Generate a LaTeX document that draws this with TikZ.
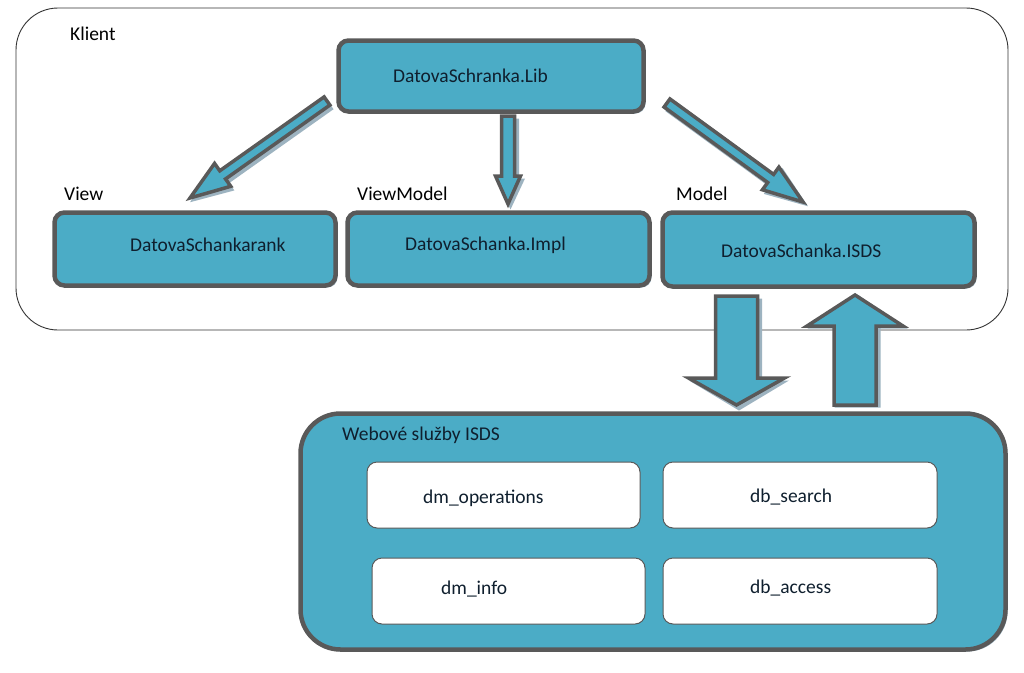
\documentclass[tikz,border=0pt]{standalone}
\usepackage{fontspec}
\setmainfont{Carlito}
\usetikzlibrary{calc,shadows}
\definecolor{blu}{HTML}{4BACC6}
\definecolor{bord}{HTML}{595959}
\definecolor{shad}{HTML}{9DB3C0}
\definecolor{txt}{HTML}{0F1F2E}
\tikzset{
  blubox/.style={fill=blu, draw=bord, line width=4.5pt, rounded corners=10pt,
    drop shadow={shadow xshift=2pt, shadow yshift=-2pt, fill=shad, opacity=1}},
  whitebox/.style={fill=white, draw=bord, line width=1pt, rounded corners=10pt},
  lbl/.style={anchor=west, inner sep=0pt, font=\fontsize{19.5}{22}\selectfont, text=black},
  boxtxt/.style={anchor=west, inner sep=0pt, font=\fontsize{19.5}{22}\selectfont, text=txt},
  arrfill/.style={fill=blu, draw=bord, line width=3.5pt, line join=miter},
}
% #1 start, #2 end, #3 half shaft, #4 half head, #5 head length
\newcommand\blockarr[5]{%
  \fill[shad] let \p1=(#1), \p2=(#2), \n1={atan2(\y2-\y1,\x2-\x1)}, \n2={veclen(\x2-\x1,\y2-\y1)} in
    [shift={(#1)}, xshift=2.5pt, yshift=-2.5pt, rotate=\n1]
    (0pt,{(#3+2)*1pt}) -- ({(\n2-#5)*1pt},{(#3+2)*1pt}) -- ({(\n2-#5)*1pt},{(#4+2)*1pt}) -- ({(\n2+3)*1pt},0pt)
    -- ({(\n2-#5)*1pt},{-(#4+2)*1pt}) -- ({(\n2-#5)*1pt},{-(#3+2)*1pt}) -- (0pt,{-(#3+2)*1pt}) -- cycle;
  \draw[arrfill] let \p1=(#1), \p2=(#2), \n1={atan2(\y2-\y1,\x2-\x1)}, \n2={veclen(\x2-\x1,\y2-\y1)} in
    [shift={(#1)}, rotate=\n1]
    (0pt,{#3*1pt}) -- ({(\n2-#5)*1pt},{#3*1pt}) -- ({(\n2-#5)*1pt},{#4*1pt}) -- ({\n2*1pt},0pt)
    -- ({(\n2-#5)*1pt},{-#4*1pt}) -- ({(\n2-#5)*1pt},{-#3*1pt}) -- (0pt,{-#3*1pt}) -- cycle;
}
\begin{document}
\begin{tikzpicture}[x=1pt, y=-1pt]
\useasboundingbox (0,0) rectangle (1024,672);
% client container
\node[draw=black!80, line width=0.9pt, rounded corners=42pt, minimum width=992pt, minimum height=322pt] (client) at (512,169) {};
\node[lbl] (klient) at (70,34) {Klient};
% boxes
\node[blubox, minimum width=305pt, minimum height=71pt] (lib) at (491,76) {};
\node[blubox, minimum width=281pt, minimum height=73pt] (view) at (195,249) {};
\node[blubox, minimum width=302pt, minimum height=73pt] (vm) at (498.5,249) {};
\node[blubox, minimum width=312pt, minimum height=74pt] (model) at (818.5,249.5) {};
\node[boxtxt] (libt) at (393,76) {DatovaSchranka.Lib};
\node[boxtxt] (viewt) at (130,245) {DatovaSchankarank};
\node[boxtxt] (vmt) at (405,245) {DatovaSchanka.Impl};
\node[boxtxt] (modelt) at (721,251) {DatovaSchanka.ISDS};
\node[lbl] (viewl) at (64,194) {View};
\node[lbl] (vml) at (357,194) {ViewModel};
\node[lbl] (modell) at (676,194) {Model};
% web services
\node[blubox, rounded corners=40pt, minimum width=705pt, minimum height=236pt] (web) at (653,531.5) {};
\node[lbl, text=txt] (webt) at (342,435) {Webové služby ISDS};
\node[whitebox, minimum width=273pt, minimum height=66pt] (dmop) at (503.5,495) {};
\node[whitebox, minimum width=274pt, minimum height=66pt] (dbs) at (800,495) {};
\node[whitebox, minimum width=273pt, minimum height=66pt] (dmi) at (508.5,591) {};
\node[whitebox, minimum width=274pt, minimum height=66pt] (dba) at (800,591) {};
\node[boxtxt] (dmopt) at (423,498) {dm\_operations};
\node[boxtxt] (dbst) at (750,497) {db\_search};
\node[boxtxt] (dmit) at (441,589) {dm\_info};
\node[boxtxt] (dbat) at (750,588) {db\_access};
% arrow end points
\coordinate (a1s) at (327,101); \coordinate (a1e) at (190,198);
\coordinate (a2s) at (508,116); \coordinate (a2e) at (508,204);
\coordinate (a3s) at (667,103); \coordinate (a3e) at (803,202);
\coordinate (a4s) at (736.5,296); \coordinate (a4e) at (736.5,405);
\coordinate (a5s) at (855,405); \coordinate (a5e) at (855,295);
\blockarr{a1s}{a1e}{5}{14}{40}
\blockarr{a2s}{a2e}{6.5}{12.5}{28}
\blockarr{a3s}{a3e}{5}{14}{40}
\blockarr{a4s}{a4e}{21}{48}{27}
\blockarr{a5s}{a5e}{21}{48}{31}
\end{tikzpicture}
\end{document}
